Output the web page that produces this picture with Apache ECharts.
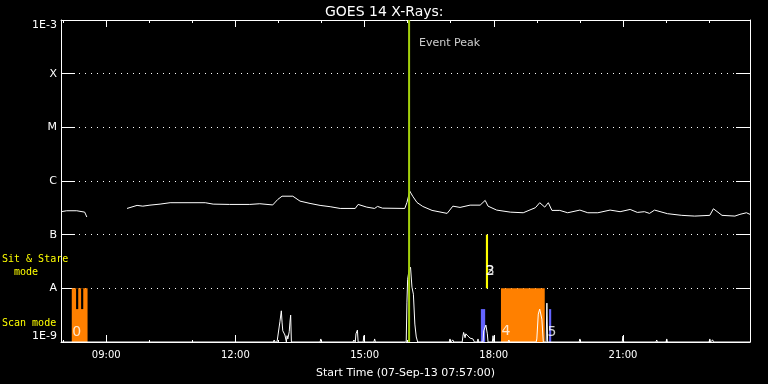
<!DOCTYPE html>
<html><head><meta charset="utf-8">
<script src="https://cdn.jsdelivr.net/npm/echarts@6.0.0/dist/echarts.min.js"></script>
<style>html,body{margin:0;padding:0;background:#000}#c{width:768px;height:384px}</style>
</head><body><div id="c"></div>
<script>
// ---- data ----
const axisStart = "07:57";
const axisEnd = "23:57";
const xTickLabels = ["09:00","12:00","15:00","18:00","21:00"];
const xMinorTicks = ["08:00","10:00","11:00","13:00","14:00","16:00","17:00","19:00","20:00","22:00","23:00"];
const yTickExponents = [-9,-8,-7,-6,-5,-4,-3];
const yTickLabels = ["1E-9","A","B","C","M","X","1E-3"];

// GOES 14 long channel (1-8 A), W/m^2 ; null = data gap
const longTimes = ["07:57","08:05","08:19","08:30","08:33","09:00","09:29","09:43","09:51","10:01","10:15","10:29","11:18","11:29","11:52","12:20","12:34","12:52","12:59","13:05","13:20","13:30","13:44","13:58","14:12","14:26","14:47","14:51","15:03","15:14","15:18","15:25","15:56","15:59","16:03","16:07","16:13","16:21","16:34","16:55","17:03","17:13","17:27","17:41","17:48","17:52","18:04","18:23","18:41","18:58","19:04","19:11","19:16","19:21","19:32","19:43","20:00","20:11","20:25","20:42","20:56","21:10","21:20","21:30","21:37","21:44","22:02","22:22","22:40","23:01","23:06","23:18","23:36","23:43","23:52","23:57"];
const longFlux = [2.68e-7,2.79e-7,2.79e-7,2.63e-7,2.13e-7,null,3.08e-7,3.51e-7,3.40e-7,3.55e-7,3.71e-7,3.94e-7,3.94e-7,3.71e-7,3.66e-7,3.66e-7,3.77e-7,3.58e-7,4.53e-7,5.21e-7,5.21e-7,4.22e-7,3.82e-7,3.51e-7,3.32e-7,3.08e-7,3.08e-7,3.66e-7,3.26e-7,3.08e-7,3.36e-7,3.12e-7,3.08e-7,3.98e-7,6.46e-7,5.21e-7,3.98e-7,3.36e-7,2.83e-7,2.49e-7,3.40e-7,3.22e-7,3.55e-7,3.55e-7,4.35e-7,3.40e-7,2.87e-7,2.63e-7,2.56e-7,3.18e-7,3.94e-7,3.26e-7,3.94e-7,2.83e-7,2.83e-7,2.56e-7,2.87e-7,2.56e-7,2.56e-7,2.87e-7,2.68e-7,2.95e-7,2.60e-7,2.68e-7,2.49e-7,2.87e-7,2.46e-7,2.29e-7,2.22e-7,2.29e-7,3.04e-7,2.29e-7,2.22e-7,2.39e-7,2.56e-7,2.39e-7];

// GOES 14 short channel (0.5-4 A), clipped at 1E-9
const shortTimes = ["07:57","12:53","12:54","12:55","12:58","12:59","13:02","13:04","13:05","13:06","13:08","13:09","13:11","13:12","13:13","13:15","13:16","13:17","13:18","13:58","13:59","14:00","14:44","14:45","14:47","14:48","14:50","14:51","14:58","14:59","15:00","15:13","15:14","15:15","15:58","15:59","16:00","16:02","16:04","16:06","16:08","16:10","16:12","16:14","16:58","16:59","17:00","17:02","17:03","17:04","17:16","17:17","17:18","17:20","17:21","17:24","17:27","17:31","17:33","17:37","17:38","17:39","17:45","17:46","17:49","17:51","17:52","17:58","17:59","18:00","18:20","18:21","18:22","18:59","19:00","19:02","19:04","19:07","19:09","19:13","19:14","19:15","19:59","20:00","20:01","20:59","21:00","21:01","21:46","21:47","21:48","22:00","22:01","22:02","23:00","23:01","23:02","23:04","23:05","23:06","23:57"];
const shortFlux = [1e-9,1e-9,1.09e-9,1e-9,1e-9,1.24e-9,2.38e-9,3.81e-9,2.35e-9,1.62e-9,1.55e-9,1.35e-9,1e-9,1.31e-9,1.14e-9,1.55e-9,2.35e-9,3.17e-9,1e-9,1e-9,1.14e-9,1e-9,1e-9,1.09e-9,1e-9,1.42e-9,1.67e-9,1e-9,1e-9,1.31e-9,1e-9,1e-9,1.14e-9,1e-9,1e-9,5.53e-9,1.48e-8,2.2e-8,2.47e-8,1.05e-8,7.78e-9,2.16e-9,1.24e-9,1e-9,1e-9,1.14e-9,1e-9,1e-9,1.09e-9,1e-9,1e-9,1.29e-9,1.51e-9,1.2e-9,1.42e-9,1.29e-9,1.18e-9,1.14e-9,1e-9,1e-9,1.14e-9,1e-9,1e-9,1.62e-9,2.07e-9,1.42e-9,1e-9,1e-9,1.31e-9,1e-9,1e-9,1.09e-9,1e-9,1e-9,1.14e-9,3.31e-9,4.10e-9,2.67e-9,1e-9,1e-9,5.30e-9,1e-9,1e-9,1.14e-9,1e-9,1e-9,1.29e-9,1e-9,1e-9,1.09e-9,1e-9,1e-9,1.14e-9,1e-9,1e-9,1.14e-9,1e-9,1e-9,1.09e-9,1e-9,1e-9];

const eventPeakTime = "16:02";
const eventPeakLabelFlux = 3.74e-4;

// observing-mode blocks
const scanStart = ["08:12","18:10"];
const scanEnd   = ["08:34","19:11"];
const scanLow = 1e-9, scanHigh = 1e-8;
const gapStart = ["08:18","08:25"];
const gapEnd   = ["08:21","08:28"];
const gapLow = 4.1e-9, gapHigh = 1e-8;
const blueStart = ["17:42","19:17"];
const blueEnd   = ["17:48","19:20"];
const blueLow = 1e-9, blueHigh = 4.1e-9;
const sitStart = ["17:49"];
const sitEnd   = ["17:52"];
const sitLow = 1e-8, sitHigh = 1e-7;

const modeLabelTimes = ["08:19","17:55","17:55","18:17","19:21"];
const modeLabelFlux  = [1.53e-9,2.08e-8,2.08e-8,1.58e-9,1.53e-9];
const modeLabelText  = ["0","2","3","4","5"];

// ---- helpers ----
const toH = s => { const p = s.split(':').map(Number); return p[0] + p[1] / 60; };
const lg = v => (v == null ? null : Math.log10(v));
const fmtH = v => { const hh = Math.floor(v + 1e-6); const mm = Math.round((v - hh) * 60); return String(hh).padStart(2,'0') + ':' + String(mm).padStart(2,'0'); };

function rectSeries(starts, ends, lo, hi, color, z) {
  return {
    type: 'custom', silent: true, z: z, xAxisIndex: 0, yAxisIndex: 0,
    data: starts.map((s, i) => [toH(s), toH(ends[i]), lg(lo), lg(hi)]),
    encode: { x: [0, 1], y: [2, 3] },
    renderItem: (params, api) => {
      const a = api.coord([api.value(0), api.value(3)]);
      const b = api.coord([api.value(1), api.value(2)]);
      return { type: 'rect', shape: { x: a[0], y: a[1], width: b[0] - a[0], height: b[1] - a[1] }, style: { fill: color } };
    }
  };
}

const W = '#ffffff';
const xMin = toH(axisStart), xMax = toH(axisEnd);
const tickStyle = { color: W, width: 1 };

const chart = echarts.init(document.getElementById('c'), null, { renderer: 'canvas' });
chart.setOption({
  backgroundColor: '#000000',
  animation: false,
  title: {
    text: 'GOES 14 X-Rays:', left: 320, top: 0,
    textStyle: { color: W, fontFamily: 'DejaVu Sans', fontSize: 14, fontWeight: 'normal' }
  },
  grid: [
    { left: 61, right: 18, top: 20, bottom: 41 },
    { left: 61, right: 18, top: 20, bottom: 41 }
  ],
  xAxis: [
    { type: 'value', gridIndex: 0, position: 'bottom', min: xMin, max: xMax,
      axisLine: { lineStyle: tickStyle },
      axisTick: { inside: true, length: 7, customValues: xTickLabels.map(toH), lineStyle: tickStyle },
      axisLabel: { customValues: xTickLabels.map(toH), formatter: v => fmtH(v), color: W, fontFamily: 'DejaVu Sans', fontSize: 10, margin: 8 },
      splitLine: { show: false },
      name: 'Start Time (07-Sep-13 07:57:00)', nameLocation: 'middle', nameGap: 26,
      nameTextStyle: { color: W, fontFamily: 'DejaVu Sans', fontSize: 11 } },
    { type: 'value', gridIndex: 0, position: 'top', min: xMin, max: xMax,
      axisLine: { lineStyle: tickStyle },
      axisTick: { inside: true, length: 7, customValues: xTickLabels.map(toH), lineStyle: tickStyle },
      axisLabel: { show: false }, splitLine: { show: false } },
    { type: 'value', gridIndex: 1, position: 'bottom', min: xMin, max: xMax,
      axisLine: { show: false },
      axisTick: { inside: true, length: 3, customValues: xMinorTicks.map(toH), lineStyle: tickStyle },
      axisLabel: { show: false }, splitLine: { show: false } },
    { type: 'value', gridIndex: 1, position: 'top', min: xMin, max: xMax,
      axisLine: { show: false },
      axisTick: { inside: true, length: 3, customValues: xMinorTicks.map(toH), lineStyle: tickStyle },
      axisLabel: { show: false }, splitLine: { show: false } }
  ],
  yAxis: [
    { type: 'value', gridIndex: 0, position: 'left', min: -9, max: -3, interval: 1,
      axisLine: { show: true, lineStyle: tickStyle },
      axisTick: { show: true, inside: true, length: 14, lineStyle: tickStyle },
      axisLabel: { formatter: v => yTickLabels[yTickExponents.indexOf(Math.round(v))], color: W,
        fontFamily: 'DejaVu Sans', fontSize: 11, margin: 4,
        verticalAlignMinLabel: 'bottom', verticalAlignMaxLabel: 'top' },
      splitLine: { show: true, lineStyle: { color: W, width: 1, type: [1, 5] } } },
    { type: 'value', gridIndex: 0, position: 'right', min: -9, max: -3, interval: 1,
      axisLine: { show: true, lineStyle: tickStyle },
      axisTick: { show: true, inside: true, length: 14, lineStyle: tickStyle },
      axisLabel: { show: false }, splitLine: { show: false } },
    { type: 'value', gridIndex: 1, min: -9, max: -3, show: false }
  ],
  graphic: [
    { type: 'text', left: 2, top: 253, style: { text: 'Sit & Stare\n  mode', fill: '#ffff00', font: '10px "DejaVu Sans Mono"', lineHeight: 13 } },
    { type: 'text', left: 2, top: 318, style: { text: 'Scan mode', fill: '#ffff00', font: '10px "DejaVu Sans Mono"' } }
  ],
  series: [
    rectSeries(scanStart, scanEnd, scanLow, scanHigh, '#ff8000', 2),
    rectSeries(gapStart, gapEnd, gapLow, gapHigh, '#000000', 3),
    rectSeries(blueStart, blueEnd, blueLow, blueHigh, '#6464ff', 3),
    rectSeries(sitStart, sitEnd, sitLow, sitHigh, '#ffff00', 3),
    { type: 'line', name: 'long', z: 5, xAxisIndex: 0, yAxisIndex: 0, symbol: 'none', silent: true,
      connectNulls: false, lineStyle: { color: W, width: 1 },
      data: longTimes.map((t, i) => [toH(t), lg(longFlux[i])]) },
    { type: 'line', name: 'short', z: 5, xAxisIndex: 0, yAxisIndex: 0, symbol: 'none', silent: true,
      lineStyle: { color: W, width: 1 },
      data: shortTimes.map((t, i) => [toH(t), lg(shortFlux[i])]) },
    { type: 'line', name: 'peak', z: 6, xAxisIndex: 0, yAxisIndex: 0, symbol: 'none', silent: true,
      lineStyle: { color: '#a4d00c', width: 2 },
      data: [[toH(eventPeakTime), -9], [toH(eventPeakTime), -3]] },
    { type: 'scatter', z: 7, xAxisIndex: 0, yAxisIndex: 0, symbolSize: 0, silent: true,
      data: [[toH(eventPeakTime), lg(eventPeakLabelFlux)]],
      label: { show: true, position: 'right', distance: 10, formatter: 'Event Peak', color: W, fontFamily: 'DejaVu Sans', fontSize: 11 } },
    { type: 'scatter', z: 7, xAxisIndex: 0, yAxisIndex: 0, symbolSize: 0, silent: true,
      data: modeLabelTimes.map((t, i) => [toH(t), lg(modeLabelFlux[i]), modeLabelText[i]]),
      label: { show: true, position: 'inside', formatter: p => p.value[2], color: W, fontFamily: 'DejaVu Sans', fontSize: 14 } }
  ]
});
</script></body></html>
